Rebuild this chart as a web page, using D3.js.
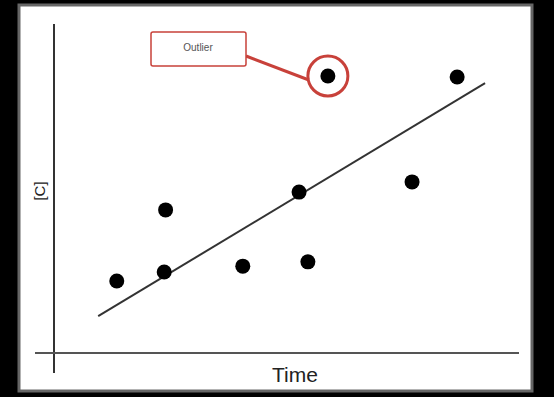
<!DOCTYPE html>
<html>
<head>
<meta charset="utf-8">
<script src="https://cdn.jsdelivr.net/npm/d3@7"></script>
<style>
  body { margin: 0; background: #000; }
  svg { display: block; }
</style>
</head>
<body>
<svg id="chart" width="554" height="397"></svg>
<script>
// data (arbitrary units, 0-10)
var timeVals = [1.35, 2.37, 2.4, 4.06, 5.27, 5.46, 7.7, 8.67];
var concVals = [2.19, 2.46, 4.35, 2.64, 4.89, 2.77, 5.2, 8.39];
var outlier = [5.89, 8.42];
var trendX = [0.95, 9.27];
var trendY = [1.12, 8.2];
var labels = ["Time", "[C]", "Outlier"];

var svg = d3.select("#chart");

// white panel with grey frame
svg.append("rect")
    .attr("x", 19).attr("y", 5)
    .attr("width", 513).attr("height", 386)
    .attr("fill", "#fff")
    .attr("stroke", "#666")
    .attr("stroke-width", 3);

var x = d3.scaleLinear().domain([0, 10]).range([54, 519]);
var y = d3.scaleLinear().domain([0, 10]).range([353, 24]);

// axes: plain lines, no ticks
svg.append("line")
    .attr("x1", x(0)).attr("x2", x(0))
    .attr("y1", y(0) + 20).attr("y2", y(10))
    .attr("stroke", "#333").attr("stroke-width", 2);

svg.append("line")
    .attr("x1", x(0) - 19).attr("x2", x(10))
    .attr("y1", y(0)).attr("y2", y(0))
    .attr("stroke", "#555").attr("stroke-width", 2);

svg.append("text")
    .attr("x", 295).attr("y", 382)
    .attr("text-anchor", "middle")
    .attr("font-family", "Liberation Sans, Arial, sans-serif")
    .attr("font-size", 21)
    .attr("fill", "#222")
    .text(labels[0]);

svg.append("text")
    .attr("transform", "translate(45,191) rotate(-90)")
    .attr("text-anchor", "middle")
    .attr("font-family", "Liberation Sans, Arial, sans-serif")
    .attr("font-size", 15)
    .attr("fill", "#222")
    .text(labels[1]);

// trend line
svg.append("line")
    .attr("x1", x(trendX[0])).attr("y1", y(trendY[0]))
    .attr("x2", x(trendX[1])).attr("y2", y(trendY[1]))
    .attr("stroke", "#333").attr("stroke-width", 2);

var pts = timeVals.map(function(d, i) { return [d, concVals[i]]; });
pts.push(outlier);

svg.selectAll(".dot")
    .data(pts)
    .enter().append("circle")
    .attr("class", "dot")
    .attr("cx", function(d) { return x(d[0]); })
    .attr("cy", function(d) { return y(d[1]); })
    .attr("r", 7.5)
    .attr("fill", "#000");

// outlier callout
var red = "#c8413a";
svg.append("circle")
    .attr("cx", x(outlier[0])).attr("cy", y(outlier[1]))
    .attr("r", 20)
    .attr("fill", "none")
    .attr("stroke", red).attr("stroke-width", 3);

svg.append("line")
    .attr("x1", 246).attr("y1", 56)
    .attr("x2", x(outlier[0]) - 19).attr("y2", y(outlier[1]) + 4)
    .attr("stroke", red).attr("stroke-width", 3);

svg.append("rect")
    .attr("x", 151).attr("y", 32)
    .attr("width", 95).attr("height", 34)
    .attr("rx", 2)
    .attr("fill", "#fff")
    .attr("stroke", red).attr("stroke-width", 1.5);

svg.append("text")
    .attr("x", 198).attr("y", 51)
    .attr("text-anchor", "middle")
    .attr("font-family", "Liberation Sans, Arial, sans-serif")
    .attr("font-size", 10)
    .attr("fill", "#555")
    .text(labels[2]);
</script>
</body>
</html>
